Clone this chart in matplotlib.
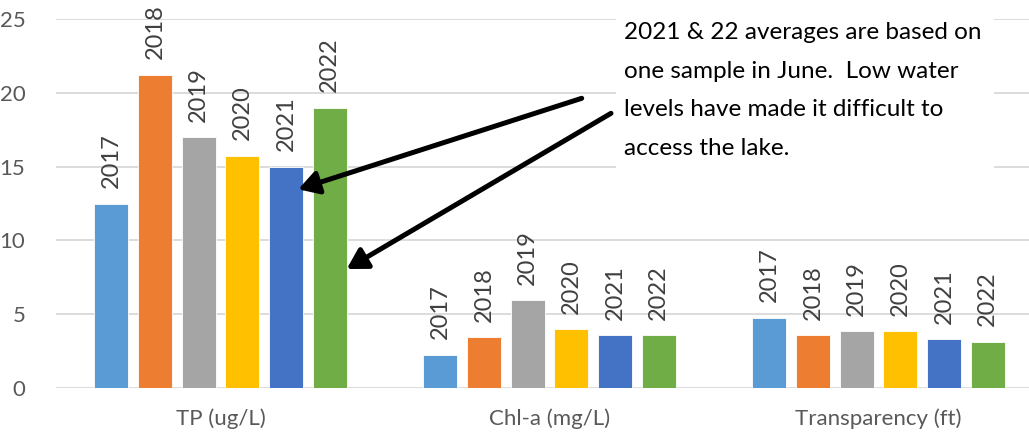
import matplotlib
matplotlib.use("Agg")
import matplotlib.pyplot as plt
from matplotlib.patches import Rectangle, FancyArrowPatch
import numpy as np

categories = ["TP (ug/L)", "Chl-a (mg/L)", "Transparency (ft)"]
years = ["2017", "2018", "2019", "2020", "2021", "2022"]
v2017 = [12.5, 2.25, 4.75]
v2018 = [21.25, 3.45, 3.55]
v2019 = [17.0, 5.95, 3.85]
v2020 = [15.75, 3.97, 3.83]
v2021 = [15.0, 3.56, 3.31]
v2022 = [19.0, 3.56, 3.13]
series = [v2017, v2018, v2019, v2020, v2021, v2022]
colors = ["#5B9BD5", "#ED7D31", "#A5A5A5", "#FFC000", "#4472C4", "#70AD47"]
yticks = [0, 5, 10, 15, 20, 25]
note = ("2021 & 22 averages are based on\n"
        "one sample in June.  Low water\n"
        "levels have made it difficult to\n"
        "access the lake.")

plt.rcParams['font.family'] = ['Lato', 'DejaVu Sans']
W, H = 1029, 433
fig = plt.figure(figsize=(W/100, H/100), dpi=100)
ax_left = 56 / W
ax_bottom = (H - 387.7) / H
ax_top = 1 - 19.3 / H
ax = fig.add_axes([ax_left, ax_bottom, 1 - ax_left, ax_top - ax_bottom])

x = np.arange(len(categories))
slot = 43.7 / 329
width = 34 / 329
for i, (vals, c, yr) in enumerate(zip(series, colors, years)):
    pos = x + (i - 2.5) * slot
    bars = ax.bar(pos, vals, width=width, color=c, edgecolor="white", linewidth=0.6, zorder=3)
    for b in bars:
        ax.annotate(yr, (b.get_x() + b.get_width() / 2, b.get_height()),
                    xytext=(0, 11), textcoords="offset points",
                    rotation=90, ha="center", va="bottom",
                    fontsize=17, color="#404040", zorder=4)

ax.set_xlim(-0.5, (W - 220.5) / 329)
ax.set_ylim(0, 25)
ax.set_yticks(yticks)
ax.set_xticks(x)
ax.set_xticklabels(categories)
ax.tick_params(axis="both", length=0, labelsize=16, labelcolor="#595959")
ax.tick_params(axis="y", pad=22)
ax.tick_params(axis="x", pad=15)
ax.yaxis.grid(True, color="#D9D9D9", linewidth=1.3, zorder=0)
ax.set_axisbelow(True)
for s in ax.spines.values():
    s.set_visible(False)

# white text box covering gridlines
fig.patches.append(Rectangle((616 / W, 1 - 176 / H), (994 - 616) / W, 176 / H,
                             transform=fig.transFigure, facecolor="white",
                             edgecolor="none", zorder=5))
fig.text(624 / W, 1 - 22 / H, note, ha="left", va="top", fontsize=17.5,
         color="black", linespacing=2.03, zorder=6)

def fp(px, py):
    return (px / W, 1 - py / H)

for start, end in [((581.7, 98.3), (298.3, 189.3)), ((611, 113.3), (346.7, 269))]:
    arr = FancyArrowPatch(fp(*start), fp(*end), transform=fig.transFigure,
                          arrowstyle="-|>,head_length=0.6,head_width=0.35",
                          mutation_scale=20, color="black", linewidth=3.6,
                          shrinkA=0, shrinkB=0, zorder=7)
    fig.patches.append(arr)

fig.savefig("out.png", dpi=100)
